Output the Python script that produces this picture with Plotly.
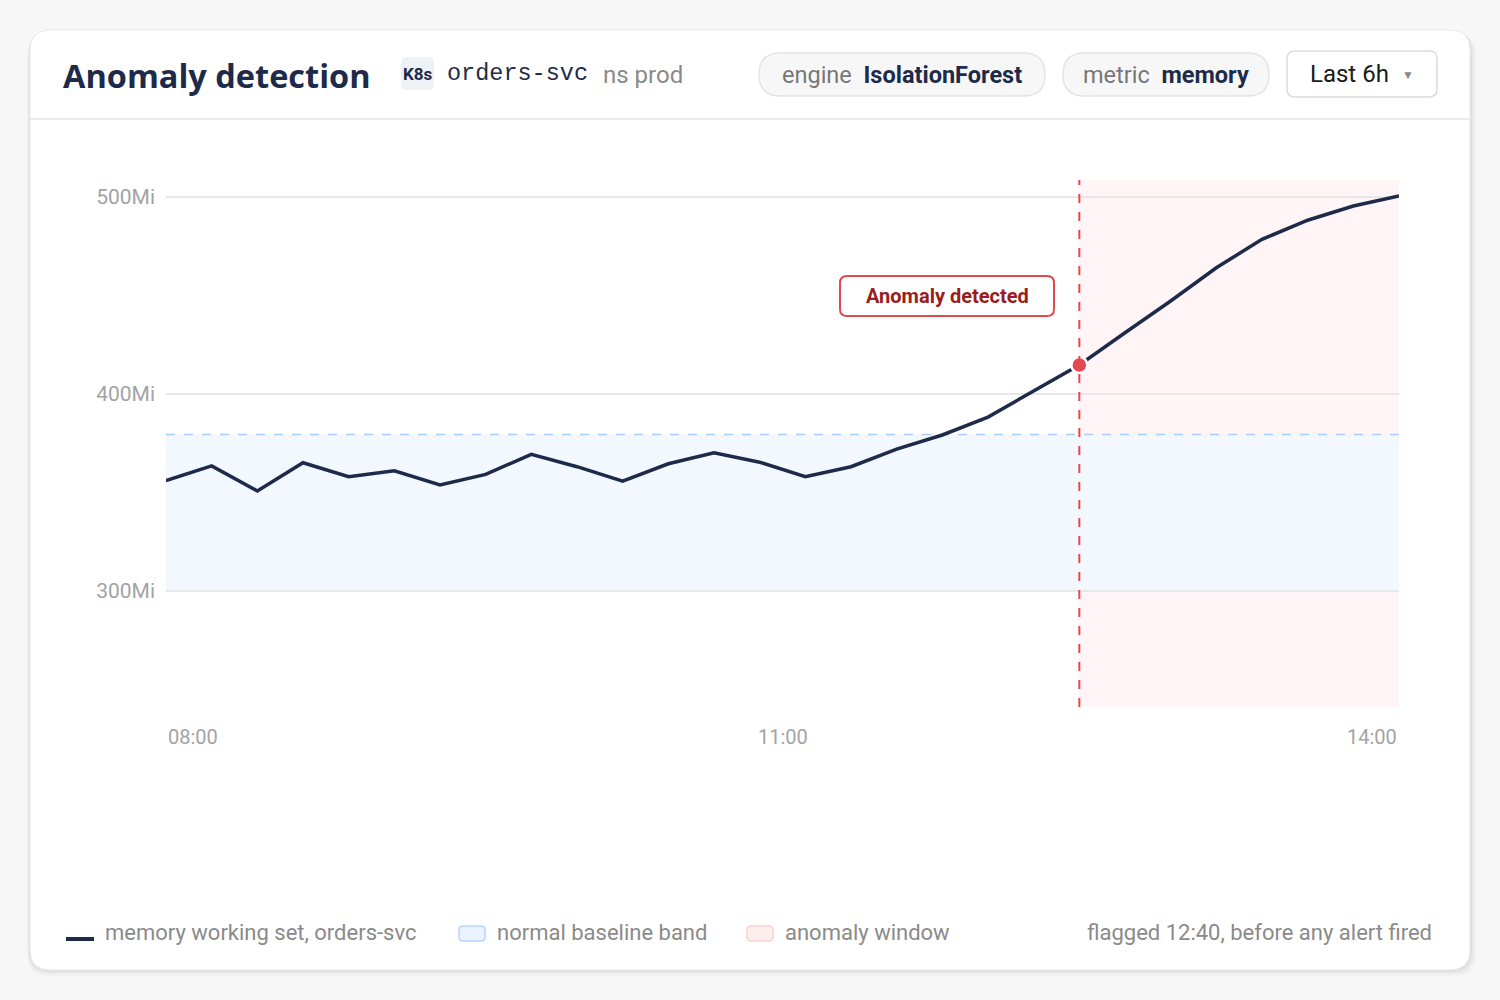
import plotly.graph_objects as go

# ---------------- data ----------------
sample_index = list(range(28))
memory_mi = [356.0, 363.5, 350.8, 365.1, 358.0, 361.0, 353.8, 359.2, 369.4, 363.1,
             355.8, 364.6, 370.2, 365.4, 358.0, 363.1, 372.0, 379.2, 388.3, 401.5,
             414.7, 431.1, 447.2, 464.1, 478.5, 488.2, 495.4, 500.5]
anomaly_index = 20
baseline_low = 300
baseline_high = 379.5
y_tick_vals = [300, 400, 500]
y_tick_text = ["300Mi", "400Mi", "500Mi"]
x_tick_pos = [0, 13.5, 27]
x_tick_text = ["08:00", "11:00", "14:00"]

# ---------------- layout helpers ----------------
FW, FH = 1500, 1000
L, R, T, B = 166, 1399, 180, 707
W, H = R - L, B - T


def X(px):
    return (px - L) / W


def Y(py):
    return (B - py) / H


def rrect(x0, y0, x1, y1, r):
    pts = [
        f"M{X(x0 + r)},{Y(y0)}",
        f"L{X(x1 - r)},{Y(y0)}",
        f"Q{X(x1)},{Y(y0)} {X(x1)},{Y(y0 + r)}",
        f"L{X(x1)},{Y(y1 - r)}",
        f"Q{X(x1)},{Y(y1)} {X(x1 - r)},{Y(y1)}",
        f"L{X(x0 + r)},{Y(y1)}",
        f"Q{X(x0)},{Y(y1)} {X(x0)},{Y(y1 - r)}",
        f"L{X(x0)},{Y(y0 + r)}",
        f"Q{X(x0)},{Y(y0)} {X(x0 + r)},{Y(y0)}",
        "Z",
    ]
    return " ".join(pts)


NAVY = "#1e2a4a"
RED = "#e5484d"
GREY_TXT = "#8a8a8a"
SANS = "Roboto, sans-serif"

shapes = []
# card shadow + card
for off, op in [(6, 0.025), (4, 0.03), (2, 0.04)]:
    shapes.append(dict(type="path", xref="paper", yref="paper", layer="below",
                       path=rrect(30 - off / 2, 30 + off / 2, 1470 + off, 970 + off, 22),
                       fillcolor=f"rgba(0,0,0,{op})", line=dict(width=0)))
shapes.append(dict(type="path", xref="paper", yref="paper", layer="below",
                   path=rrect(30, 30, 1470, 970, 20), fillcolor="#ffffff",
                   line=dict(color="#e8e8e8", width=1)))
# header separator
shapes.append(dict(type="line", xref="paper", yref="paper", layer="below",
                   x0=X(30), x1=X(1470), y0=Y(119), y1=Y(119),
                   line=dict(color="#ebebeb", width=2)))
# K8s badge
shapes.append(dict(type="path", xref="paper", yref="paper", layer="below",
                   path=rrect(401, 57, 434, 90, 6), fillcolor="#eef1f6", line=dict(width=0)))
# pills
shapes.append(dict(type="path", xref="paper", yref="paper", layer="below",
                   path=rrect(759, 53, 1045, 96, 21.5), fillcolor="#f7f7f7",
                   line=dict(color="#e4e4e4", width=1.5)))
shapes.append(dict(type="path", xref="paper", yref="paper", layer="below",
                   path=rrect(1063, 53, 1269, 96, 21.5), fillcolor="#f7f7f7",
                   line=dict(color="#e4e4e4", width=1.5)))
shapes.append(dict(type="path", xref="paper", yref="paper", layer="below",
                   path=rrect(1287, 51, 1437, 97, 8), fillcolor="#ffffff",
                   line=dict(color="#dcdcdc", width=1.5)))
# anomaly window
shapes.append(dict(type="rect", xref="x", yref="paper", layer="below",
                   x0=anomaly_index, x1=sample_index[-1], y0=0, y1=1,
                   fillcolor="#fff5f6", line=dict(width=0)))
# baseline band
shapes.append(dict(type="rect", xref="x", yref="y", layer="below",
                   x0=sample_index[0], x1=sample_index[-1], y0=baseline_low, y1=baseline_high,
                   fillcolor="#f3f8ff", line=dict(width=0)))
shapes.append(dict(type="line", xref="x", yref="y", layer="below",
                   x0=sample_index[0], x1=sample_index[-1], y0=baseline_high, y1=baseline_high,
                   line=dict(color="#a9cdfa", width=1.5, dash="dash")))
# detection marker line
shapes.append(dict(type="line", xref="x", yref="paper", layer="above",
                   x0=anomaly_index, x1=anomaly_index, y0=0, y1=1,
                   line=dict(color=RED, width=2, dash="dash")))
# callout box
shapes.append(dict(type="path", xref="paper", yref="paper", layer="above",
                   path=rrect(840, 276, 1054, 316, 7), fillcolor="#ffffff",
                   line=dict(color=RED, width=2)))
# legend swatches
shapes.append(dict(type="line", xref="paper", yref="paper", layer="above",
                   x0=X(66), x1=X(94), y0=Y(939), y1=Y(939),
                   line=dict(color=NAVY, width=4)))
shapes.append(dict(type="path", xref="paper", yref="paper", layer="above",
                   path=rrect(459, 926, 485, 941, 4), fillcolor="#eaf3ff",
                   line=dict(color="#b7d4fb", width=1.5)))
shapes.append(dict(type="path", xref="paper", yref="paper", layer="above",
                   path=rrect(747, 926, 773, 941, 4), fillcolor="#fdeeee",
                   line=dict(color="#f7d2d4", width=1.5)))

annotations = []


def txt(text, px, py, size, color, anchor="left", family=SANS, weight=None):
    f = dict(family=family, size=size, color=color)
    if weight:
        f["weight"] = weight
    annotations.append(dict(text=text, xref="paper", yref="paper", x=X(px), y=Y(py),
                            xanchor=anchor, yanchor="middle", showarrow=False, font=f))


txt("Anomaly detection", 61, 75, 32.5, NAVY, family="Open Sans, sans-serif", weight=700)
txt("<b>K8s</b>", 417.5, 74, 17, NAVY, anchor="center")
txt("orders-svc", 445, 74, 23.5, NAVY, family="Liberation Mono, monospace")
txt("ns prod", 601, 75, 24, GREY_TXT)
txt(f"engine  <b><span style='color:{NAVY}'>IsolationForest</span></b>", 902, 75, 23.5, "#777777", anchor="center")
txt(f"metric  <b><span style='color:{NAVY}'>memory</span></b>", 1166, 75, 23.5, "#777777", anchor="center")
txt("Last 6h", 1308, 74, 24, "#1a1a1a")
txt("▼", 1408, 75, 12, "#8a8a8a", anchor="center")
txt("<b>Anomaly detected</b>", 947, 296, 20, "#9b1c1c", anchor="center")

txt("memory working set, orders-svc", 103, 932, 22, GREY_TXT)
txt("normal baseline band", 495, 932, 22, GREY_TXT)
txt("anomaly window", 783, 932, 22, GREY_TXT)
txt("flagged 12:40, before any alert fired", 1434, 932, 22, GREY_TXT, anchor="right")

# x tick labels
for pos, lab, anc in zip(x_tick_pos, x_tick_text, ["left", "center", "right"]):
    annotations.append(dict(text=lab, xref="x", yref="paper", x=pos, y=Y(737),
                            xanchor=anc, yanchor="middle", showarrow=False,
                            font=dict(family=SANS, size=20, color="#a3a3a3")))

fig = go.Figure()
fig.add_trace(go.Scatter(x=sample_index, y=memory_mi, mode="lines",
                         line=dict(color=NAVY, width=3.5), hoverinfo="skip",
                         showlegend=False))
fig.add_trace(go.Scatter(x=[sample_index[anomaly_index]], y=[memory_mi[anomaly_index]],
                         mode="markers",
                         marker=dict(color=RED, size=16, line=dict(color="#ffffff", width=2.5)),
                         hoverinfo="skip", showlegend=False))

fig.update_layout(
    width=FW, height=FH,
    margin=dict(l=L, r=FW - R, t=T, b=FH - B, pad=0),
    paper_bgcolor="#f7f7f7",
    plot_bgcolor="rgba(0,0,0,0)",
    shapes=shapes,
    annotations=annotations,
    showlegend=False,
    xaxis=dict(range=[0, 27], showgrid=False, zeroline=False, showticklabels=False,
               showline=False, ticks="", fixedrange=True),
    yaxis=dict(range=[241.12, 508.63], tickvals=y_tick_vals, ticktext=y_tick_text,
               showgrid=True, gridcolor="#e8e8e8", gridwidth=1.5, zeroline=False,
               showline=False, ticks="", ticklabelstandoff=10,
               tickfont=dict(family=SANS, size=21, color="#a3a3a3"), fixedrange=True),
)

fig.write_html("out.html", config={"displayModeBar": False})
